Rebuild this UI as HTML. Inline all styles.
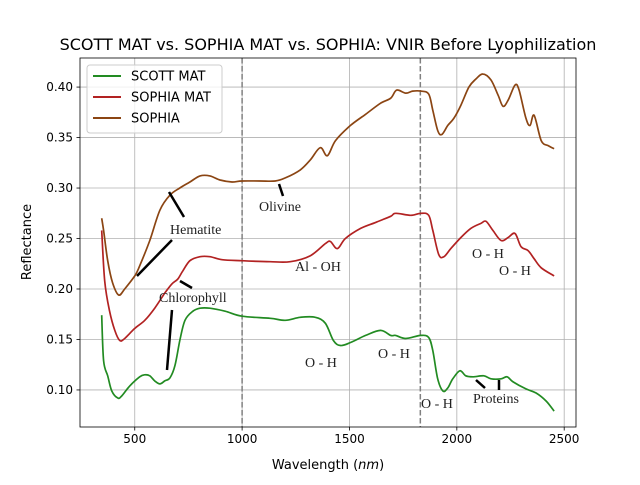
<!DOCTYPE html>
<html><head><meta charset="utf-8"><style>
body{margin:0;background:#fff}
svg text{font-family:"DejaVu Sans","Liberation Sans",sans-serif}
.ann{font-family:"Liberation Serif",serif;font-size:14px;fill:#222}
</style></head><body>
<svg id="chart" width="640" height="480" xmlns="http://www.w3.org/2000/svg">
<rect width="640" height="480" fill="#fff"/>
<text x="328" y="50" text-anchor="middle" font-size="16">SCOTT MAT vs. SOPHIA MAT vs. SOPHIA: VNIR Before Lyophilization</text>
<g id="grid"></g><g id="series"></g><g id="ann"></g><g id="axes"></g>
</svg>
<script>
const scottWl=[346,355,374,393,421,439,477,523,547,570,593,617,640,664,687,710,734,771,804,850,921,1000,1131,1201,1271,1341,1388,1425,1458,1505,1575,1645,1692,1715,1762,1832,1869,1888,1911,1935,1958,1981,2014,2042,2075,2126,2159,2206,2234,2262,2322,2369,2416,2453];
const scottR=[.174,.129,.114,.099,.092,.094,.104,.113,.115,.114,.109,.106,.109,.112,.124,.149,.169,.178,.181,.181,.178,.173,.171,.169,.172,.172,.166,.149,.144,.147,.154,.159,.154,.154,.151,.154,.152,.139,.111,.099,.102,.111,.119,.114,.113,.114,.111,.111,.113,.108,.101,.097,.089,.079];
const matWl=[346,360,383,407,430,453,500,547,593,640,673,701,724,757,804,850,907,1000,1131,1224,1318,1388,1411,1444,1481,1552,1622,1692,1715,1785,1832,1869,1888,1916,1940,1972,2019,2065,2112,2136,2168,2206,2239,2271,2299,2332,2360,2393,2453];
const matR=[.258,.208,.178,.159,.149,.151,.161,.169,.181,.196,.205,.210,.218,.228,.232,.232,.229,.228,.227,.227,.233,.245,.247,.240,.250,.260,.266,.272,.275,.273,.275,.273,.258,.234,.232,.240,.251,.260,.265,.267,.258,.248,.251,.255,.242,.238,.230,.221,.213];
const sophWl=[346,355,374,397,425,453,500,523,570,617,664,710,757,804,850,897,953,1000,1084,1154,1201,1271,1318,1364,1397,1435,1505,1575,1645,1692,1720,1762,1794,1832,1869,1888,1911,1930,1958,1986,2019,2056,2089,2121,2159,2192,2215,2239,2271,2290,2322,2341,2360,2393,2425,2453];
const sophR=[.270,.258,.228,.206,.194,.200,.213,.223,.248,.278,.293,.300,.306,.312,.312,.308,.306,.307,.307,.307,.310,.318,.328,.340,.332,.347,.362,.373,.384,.389,.397,.394,.396,.396,.393,.377,.357,.353,.362,.369,.382,.400,.408,.413,.407,.392,.381,.387,.402,.397,.369,.362,.372,.347,.342,.339];
const xTicks=[500,1000,1500,2000,2500];
const yTicks=[0.10,0.15,0.20,0.25,0.30,0.35,0.40];
const vlines=[1000,1830];
const L=80,R=576,T=58,B=427,x0=245,x1=2555,y0=0.0633,y1=0.4288;
const sx=v=>L+(v-x0)/(x1-x0)*(R-L), sy=v=>B-(v-y0)/(y1-y0)*(B-T);
const NS='http://www.w3.org/2000/svg';
function mk(p,tag,a){const e=document.createElementNS(NS,tag);for(const k in a)e.setAttribute(k,a[k]);document.getElementById(p).appendChild(e);return e;}
function smooth(P){let d='M'+P[0][0].toFixed(1)+','+P[0][1].toFixed(1);
 for(let i=0;i<P.length-1;i++){const p0=P[Math.max(0,i-1)],p1=P[i],p2=P[i+1],p3=P[Math.min(P.length-1,i+2)];
  const c1=[p1[0]+(p2[0]-p0[0])/6,p1[1]+(p2[1]-p0[1])/6],c2=[p2[0]-(p3[0]-p1[0])/6,p2[1]-(p3[1]-p1[1])/6];
  d+='C'+c1.map(v=>v.toFixed(1)).join(',')+' '+c2.map(v=>v.toFixed(1)).join(',')+' '+p2[0].toFixed(1)+','+p2[1].toFixed(1);}
 return d;}
xTicks.forEach(t=>{const x=sx(t);
 let g=mk('grid','line',{x1:x,x2:x,y1:T,y2:B,stroke:'#b0b0b0','stroke-width':0.8});
 
 mk('axes','line',{x1:x,x2:x,y1:B,y2:B+3.5,stroke:'#000','stroke-width':0.8});
 let l=mk('axes','text',{x:x,y:B+16,'text-anchor':'middle','font-size':12});l.textContent=t;
 });
yTicks.forEach(t=>{const y=sy(t);
 let g=mk('grid','line',{x1:L,x2:R,y1:y,y2:y,stroke:'#b0b0b0','stroke-width':0.8});
 
 mk('axes','line',{x1:L-3.5,x2:L,y1:y,y2:y,stroke:'#000','stroke-width':0.8});
 let l=mk('axes','text',{x:L-7,y:y+4,'text-anchor':'end','font-size':12});l.textContent=t.toFixed(2);
 });
vlines.forEach(v=>{let e=mk('grid','line',{x1:sx(v),x2:sx(v),y1:T,y2:B,stroke:'#808080','stroke-width':1.5,'stroke-dasharray':'5.5,2.5'});
 });
[[sophWl,sophR,'#8b4513','sophia-line'],[matWl,matR,'#b22222','sophia-mat-line'],[scottWl,scottR,'#228b22','scott-mat-line']].forEach(([w,r,c,n])=>{
 const P=w.map((v,i)=>[sx(v),sy(r[i])]);
 let p=mk('series','path',{d:smooth(P),fill:'none',stroke:c,'stroke-width':1.7,'stroke-linejoin':'round'});
 });
const labels=[['Hematite',170,234],['Olivine',259,211],['Al - OH',295,271],['Chlorophyll',159,302],['O - H',305,367],['O - H',378,358],['O - H',421,408],['O - H',472,258],['O - H',499,275],['Proteins',473,403]];
labels.forEach(([t,x,y])=>{let e=mk('ann','text',{x:x,y:y,class:'ann'});e.textContent=t;
 });
const segs=[[169,192,184,217],[137,276,172,240],[180,281,192,288],[172,310,167,370],[279,184,283,196],[476,380,485,388],[499,380,499,390]];
segs.forEach(s=>{let e=mk('ann','line',{x1:s[0],y1:s[1],x2:s[2],y2:s[3],stroke:'#000','stroke-width':2.5});
 });
let fr=mk('axes','rect',{x:L,y:T,width:R-L,height:B-T,fill:'none',stroke:'#000','stroke-width':0.8});

let xt=mk('axes','text',{x:328,y:469,'text-anchor':'middle','font-size':13});xt.innerHTML='Wavelength (<tspan font-style="italic">nm</tspan>)';

let yt=mk('axes','text',{x:0,y:0,'text-anchor':'middle','font-size':13,transform:'translate(31,242) rotate(-90)'});yt.textContent='Reflectance';

let lg=mk('axes','rect',{x:87,y:65,width:135,height:68,rx:3,fill:'#fff','fill-opacity':0.8,stroke:'#ccc'});

[['SCOTT MAT','#228b22',76],['SOPHIA MAT','#b22222',97],['SOPHIA','#8b4513',118]].forEach(([t,c,y])=>{
 let ln=mk('axes','line',{x1:93,x2:121,y1:y,y2:y,stroke:c,'stroke-width':2});
 
 let tx=mk('axes','text',{x:131,y:y+4.5,'font-size':13});tx.textContent=t;
 });
</script>
</body></html>
